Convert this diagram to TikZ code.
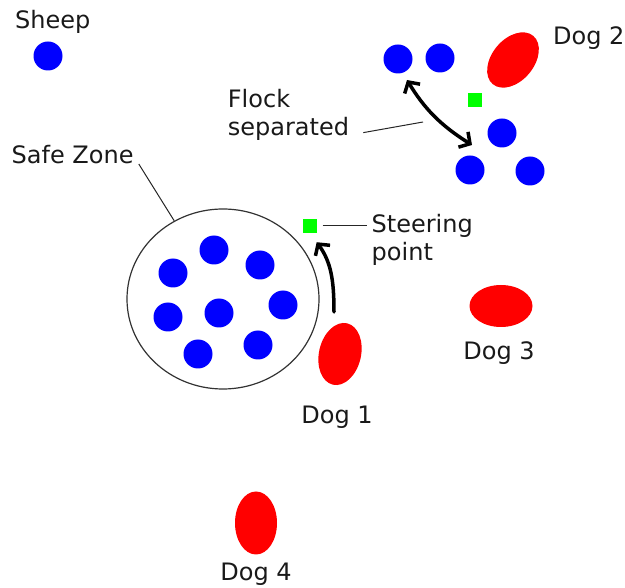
\documentclass[tikz,border=0pt]{standalone}
\usepackage{fontspec}
\setmainfont{DejaVu Sans}
\usetikzlibrary{arrows.meta}
\usetikzlibrary{shapes.geometric}
\tikzset{sheep/.style={circle, fill=blue, inner sep=0pt, minimum size=29pt}}
\tikzset{dog/.style={ellipse, fill=red, inner sep=0pt, minimum width=42pt, minimum height=63pt}}
\tikzset{target/.style={rectangle, fill=green, inner sep=0pt, minimum size=14pt}}
\tikzset{txt/.style={inner sep=0pt, align=left, text=black!90}}
\tikzset{pointer/.style={draw=black!85, line width=1pt}}
\tikzset{push/.style={line width=3.5pt, line cap=round, line join=round}}

\begin{document}
\begin{tikzpicture}[x=1pt, y=-1pt, font=\fontsize{24}{28}\selectfont,
	>={Straight Barb[length=8pt,width=18pt]}]
		\useasboundingbox (0,0) rectangle (625,588);
		% a lone sheep
		\node[txt, anchor=base west] (sheeplabel) at (15,29) {Sheep};
		\node[sheep] (lone) at (48,56) {};
		% the safe zone with its sheep
		\node[ellipse, draw=black!80, line width=1.2pt, minimum width=192pt, minimum height=180pt] (zone) at (223,299) {};
		\node[sheep] (s1) at (214,250) {};
		\node[sheep] (s2) at (173,273) {};
		\node[sheep] (s3) at (260,265) {};
		\node[sheep] (s4) at (168,317) {};
		\node[sheep] (s5) at (219,313) {};
		\node[sheep] (s6) at (283,305) {};
		\node[sheep] (s7) at (198,354) {};
		\node[sheep] (s8) at (258,345) {};
		\node[txt, anchor=base west] (zonelabel) at (11.5,164) {Safe Zone};
		\draw[pointer] ([xshift=5pt]zonelabel.base east) -- (zone);
		% flock split in two
		\node[sheep] (f1) at (398,59) {};
		\node[sheep] (f2) at (440,58) {};
		\node[sheep] (f3) at (502,133) {};
		\node[sheep] (f4) at (470,170) {};
		\node[sheep] (f5) at (530,171) {};
		\node[target] (steer2) at (475,100) {};
		\coordinate (splitA) at (407,80);
		\coordinate (splitB) at (472,145);
		\coordinate (split) at (423,122);
		\draw[push, <->] (splitA) .. controls (424,108) and (440,125) .. (splitB);
		\node[txt, anchor=north west] (flocklabel) at (227.7,89) {Flock\\separated};
		\draw[pointer] ([shift={(14,-8)}]flocklabel.south east) -- (split);
		% dogs
		\node[dog, rotate=-40] (dog2) at (513,60) {};
		\node[txt, anchor=base west] (dog2label) at (553,45) {Dog 2};
		\node[dog, rotate=-13] (dog1) at (340,354) {};
		\node[txt, anchor=base] (dog1label) at (337,424) {Dog 1};
		\node[dog, rotate=90] (dog3) at (501,306) {};
		\node[txt, anchor=base] (dog3label) at (499,360) {Dog 3};
		\node[dog] (dog4) at (256,523) {};
		\node[txt, anchor=base] (dog4label) at (256,580) {Dog 4};
		% steering point for dog 1
		\node[target] (steer1) at (309.5,226) {};
		\node[txt, anchor=north west] (steerlabel) at (371.5,213.6) {Steering\\point};
		\draw[pointer] ([xshift=6pt]steer1.east) -- ([xshift=-5pt]steer1.east -| steerlabel.west);
		\coordinate (nudge) at (334,312);
		\draw[push, ->] (nudge) .. controls (334,280) and (331,262) .. ([shift={(0,9)}]steer1.south east);
\end{tikzpicture}
\end{document}
